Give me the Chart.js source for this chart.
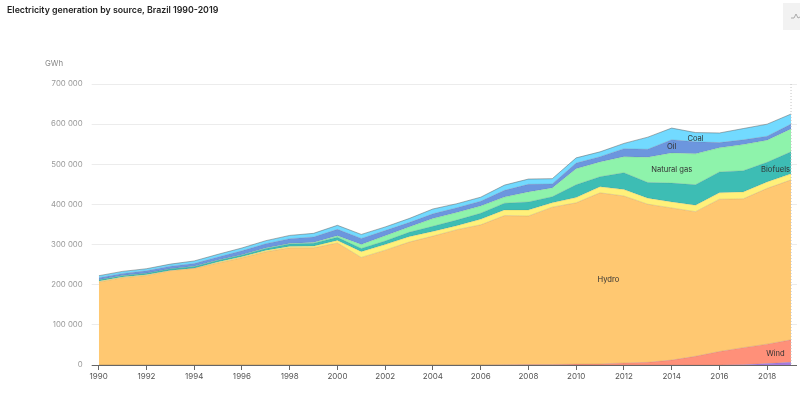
<!DOCTYPE html>
<html>
<head>
<meta charset="utf-8">
<script src="https://cdn.jsdelivr.net/npm/chart.js@4"></script>
<style>
body { margin: 0; background: #fff; font-family: Inter, sans-serif; }
#wrap { position: relative; width: 800px; height: 393px; overflow: hidden; }
#chart { position: absolute; left: 0; top: 0; }
#title { position: absolute; left: 7px; top: 4px; font-size: 8.8px; font-weight: 600; color: #222; white-space: nowrap; }
#unit { position: absolute; left: 45px; top: 58px; font-size: 7.8px; color: #888; }
#btn { position: absolute; left: 783px; top: 3px; width: 17px; height: 27px; background: #f2f2f2; }
</style>
</head>
<body>
<div id="wrap">
  <canvas id="chart" width="800" height="393"></canvas>
  <div id="title">Electricity generation by source, Brazil 1990-2019</div>
  <div id="unit">GWh</div>
  <div id="btn"><svg width="17" height="27"><polyline points="8,15 11,15 13,11 15,15 17,14" fill="none" stroke="#aaa" stroke-width="1"/></svg></div>
</div>
<script>
// GWh
const years = [1990,1991,1992,1993,1994,1995,1996,1997,1998,1999,2000,2001,2002,2003,2004,2005,2006,2007,2008,2009,2010,2011,2012,2013,2014,2015,2016,2017,2018,2019];
const solar = [0,0,0,0,0,0,0,0,0,0,0,0,0,0,0,0,0,0,0,0,0,0,0,0,0,100,100,800,3500,6700];
const wind = [0,0,0,0,0,0,0,0,0,0,0,0,100,100,100,100,200,700,1200,1200,2200,2700,5000,6600,12200,21600,33500,42400,48500,56000];
const hydro = [206700,217600,223000,235000,241000,254000,267000,282000,292000,292000,304000,268000,286000,306000,321000,337000,349000,371500,370000,392000,401800,426300,416000,394000,379000,360300,379400,370800,388000,398500];
const nuclear = [2200,1400,1800,500,100,2500,2400,3200,3300,4000,6000,14300,13800,13400,11600,9900,13800,14000,15000,11000,13000,15000,16000,15000,15000,16000,16000,17000,16000,15000];
const biofuels = [3500,3600,3800,4000,4200,4300,4500,5000,6000,7000,8000,8000,9000,11000,13000,14000,15000,17000,20000,15000,32000,25000,42000,39000,47000,51000,52000,53000,49000,55000];
const gas = [0,100,200,300,400,500,600,1000,1500,2000,4000,10000,13000,13300,19000,18800,18000,15000,25000,22000,40000,37000,40000,63000,75000,77000,60000,65000,55000,57000];
const oil = [5000,5500,6000,6500,7000,8000,10000,11000,12000,14000,16000,15000,13000,11000,12000,12000,12000,17000,19000,10000,14000,13000,20000,20000,33000,30000,13000,12000,10000,12000];
const coal = [5000,5000,5000,5000,6500,6500,7000,7500,8000,9000,10000,10000,9000,10000,12000,10000,10000,13000,13000,13000,13000,12000,13000,30000,29000,23000,24000,28000,30000,25000];

const sources = [
    { label: 'Solar', data: solar, color: '#a77be0' },
    { label: 'Wind', data: wind, color: '#ff9079' },
    { label: 'Hydro', data: hydro, color: '#ffc871' },
    { label: 'Nuclear', data: nuclear, color: '#fff07a' },
    { label: 'Biofuels', data: biofuels, color: '#3dbdb4' },
    { label: 'Natural gas', data: gas, color: '#8ef3ab' },
    { label: 'Oil', data: oil, color: '#6c96de' },
    { label: 'Coal', data: coal, color: '#72daff' }
];

// labels sitting inside the areas
const labelNames = ['Hydro', 'Wind', 'Biofuels', 'Natural gas', 'Oil', 'Coal'];
const labelYears = [2011.35, 2018.35, 2018.35, 2014, 2014, 2015];
const labelValues = [212000, 27000, 486000, 486000, 544000, 563000];

const areaExtras = {
    id: 'areaExtras',
    afterDatasetsDraw(chart) {
        const { ctx, scales: { x, y } } = chart;
        ctx.save();
        // dotted marker at the last year
        ctx.strokeStyle = '#c4c4c4';
        ctx.lineWidth = 1;
        ctx.setLineDash([1, 2]);
        ctx.beginPath();
        ctx.moveTo(x.getPixelForValue(2019), y.getPixelForValue(700000));
        ctx.lineTo(x.getPixelForValue(2019), y.getPixelForValue(0));
        ctx.stroke();
        ctx.setLineDash([]);
        ctx.fillStyle = '#333';
        ctx.font = '7.6px Inter, sans-serif';
        ctx.textAlign = 'center';
        ctx.textBaseline = 'middle';
        labelNames.forEach((name, i) => {
            ctx.fillText(name, x.getPixelForValue(labelYears[i]), y.getPixelForValue(labelValues[i]));
        });
        ctx.restore();
    }
};

new Chart(document.getElementById('chart'), {
    type: 'line',
    data: {
        datasets: sources.map((s, i) => ({
            label: s.label,
            data: s.data.map((v, j) => ({ x: years[j], y: v })),
            backgroundColor: s.color,
            borderColor: s.label === 'Coal' ? 'rgba(90, 90, 90, 0.6)' : 'rgba(90, 90, 90, 0.25)',
            borderWidth: s.label === 'Coal' ? 0.8 : 0.6,
            pointRadius: 0,
            tension: 0,
            fill: i === 0 ? 'origin' : '-1'
        }))
    },
    plugins: [areaExtras],
    options: {
        responsive: false,
        animation: false,
        layout: { padding: { top: 84, right: 3, bottom: 0, left: 0 } },
        plugins: { legend: { display: false }, tooltip: { enabled: false } },
        scales: {
            x: {
                type: 'linear',
                min: 1990,
                max: 2019.25,
                afterFit(scale) { scale.height = 28; },
                grid: { drawOnChartArea: false, tickLength: 5, color: '#666', tickColor: '#666' },
                border: { display: false },
                ticks: {
                    stepSize: 2,
                    includeBounds: false,
                    maxRotation: 0,
                    autoSkip: false,
                    padding: 2,
                    color: '#555',
                    font: { family: 'Inter, sans-serif', size: 8 },
                    callback: v => String(v)
                }
            },
            y: {
                stacked: true,
                min: 0,
                max: 700000,
                afterFit(scale) { scale.width = 98.7; },
                grid: {
                    tickLength: 7,
                    color: c => c.tick.value === 0 ? '#666' : '#ececec',
                    tickColor: c => c.tick.value === 0 ? '#666' : '#ececec'
                },
                border: { display: false },
                ticks: {
                    stepSize: 100000,
                    padding: 9,
                    color: '#999',
                    font: { family: 'Inter, sans-serif', size: 7.8 },
                    callback: v => String(v).replace(/\B(?=(\d{3})+$)/g, ' ')
                }
            }
        }
    }
});
</script>
</body>
</html>
